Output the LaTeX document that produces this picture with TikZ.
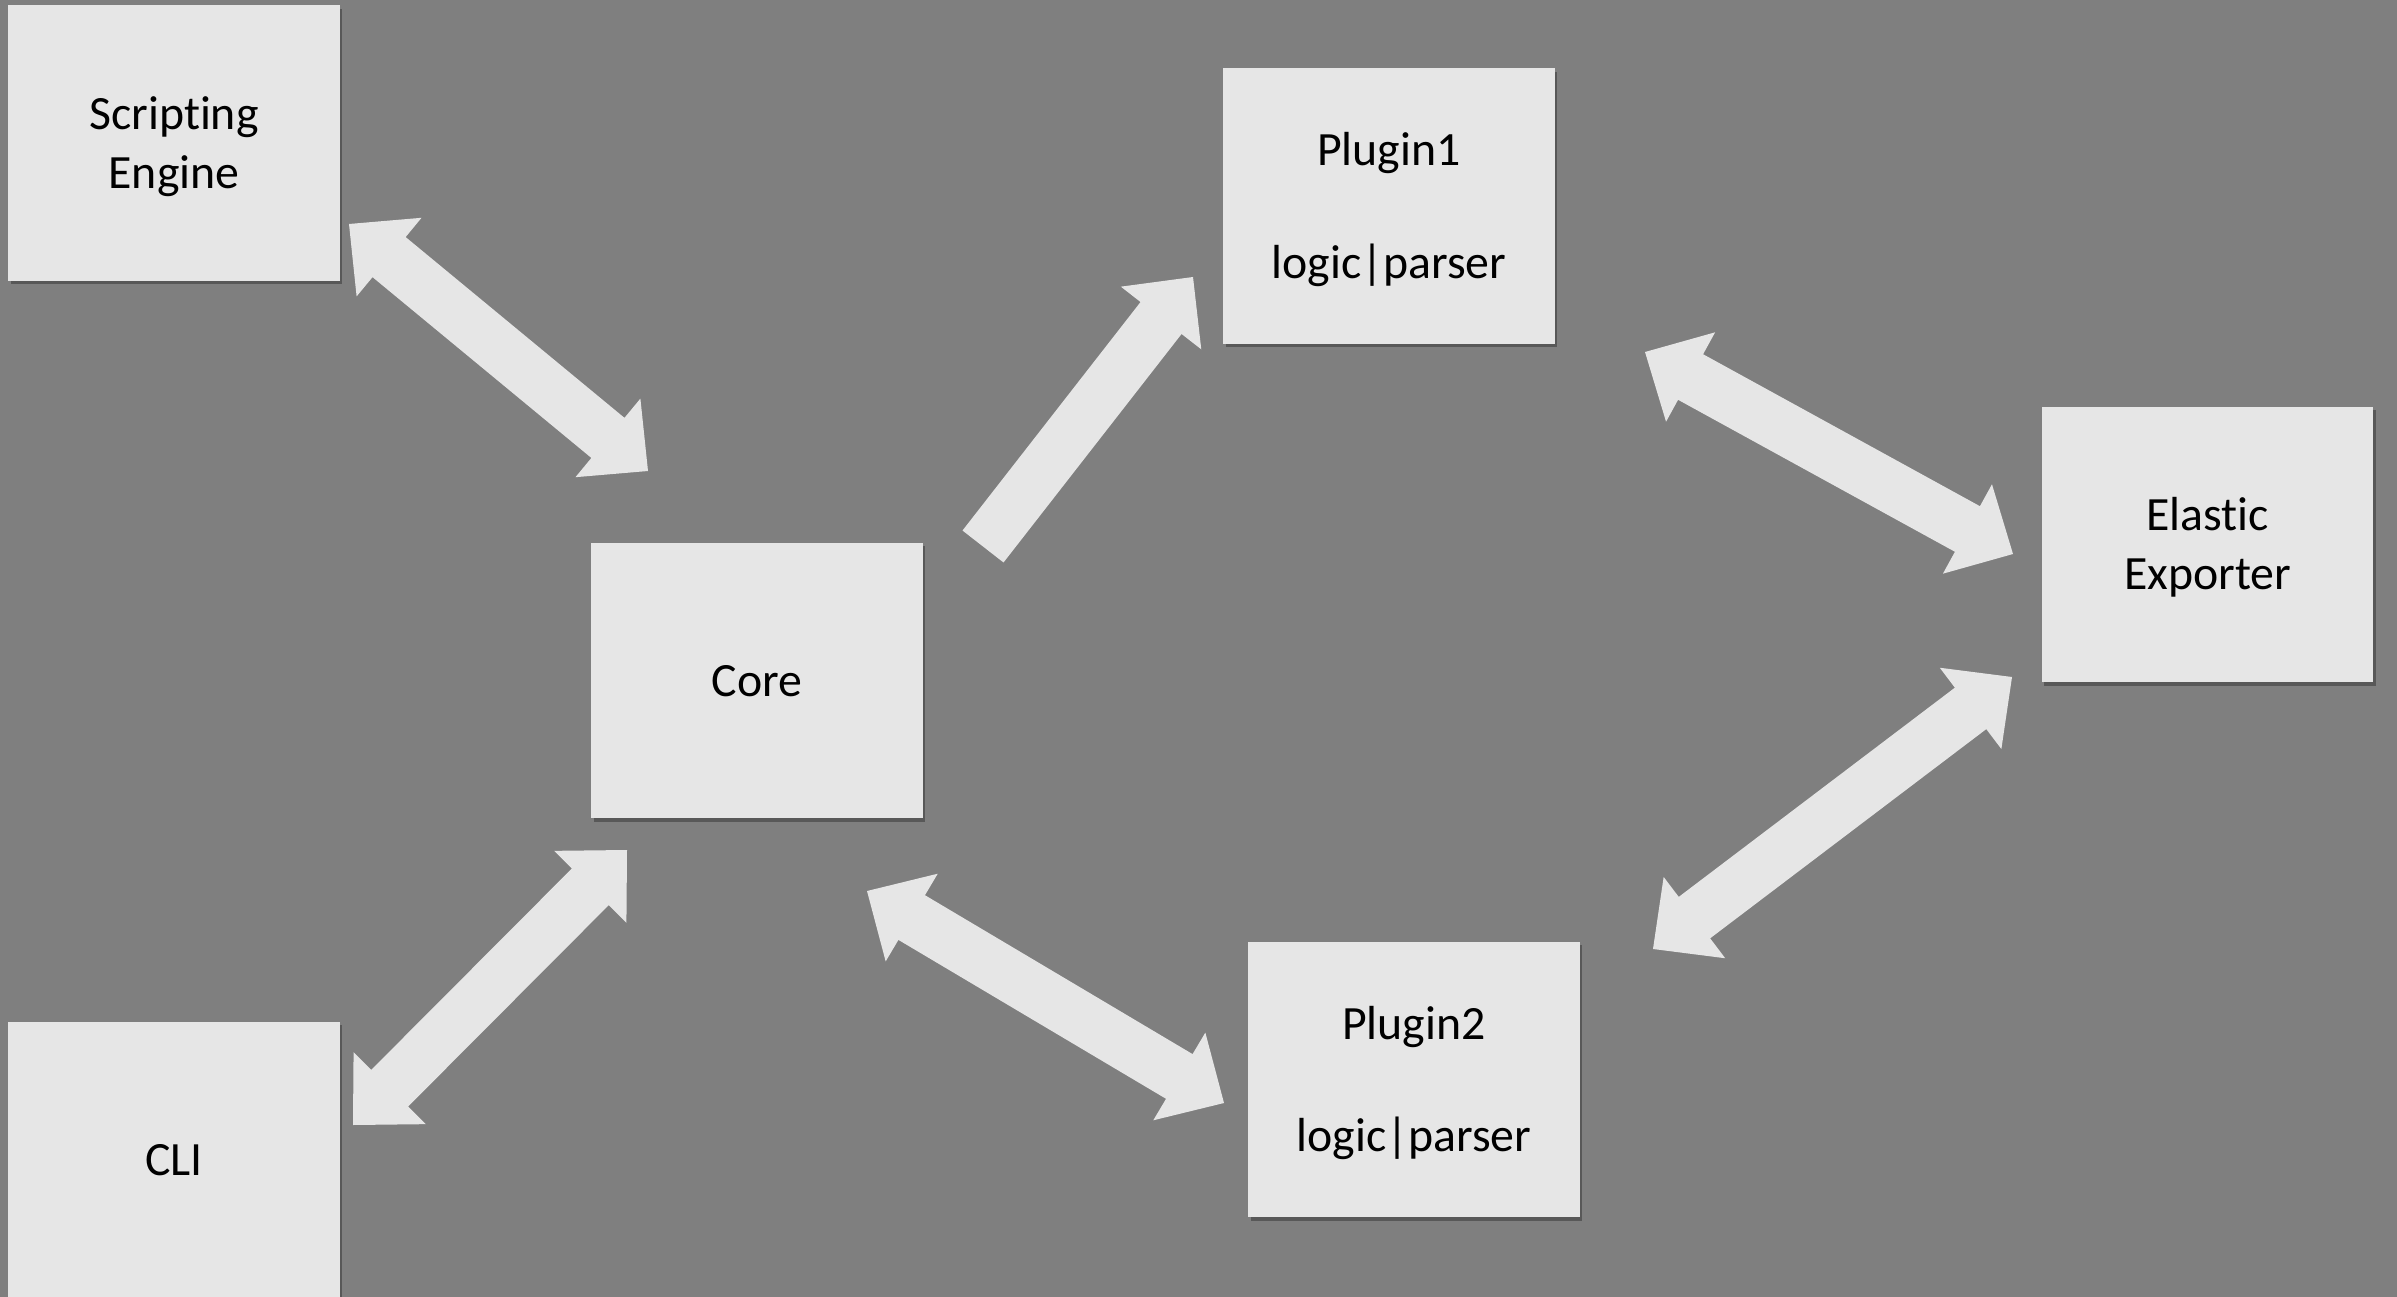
\documentclass[tikz,border=0pt]{standalone}
\usepackage{fontspec}
\setmainfont[Ligatures={NoCommon}]{Carlito}
\usetikzlibrary{calc,shadows}
\definecolor{bggray}{RGB}{127,127,127}
\definecolor{boxgray}{RGB}{230,230,230}
\tikzset{
  box/.style={fill=boxgray, draw=none, minimum width=6.64cm, minimum height=5.52cm,
    inner sep=0pt, text=black,
    font=\fontsize{27.2}{33.6}\selectfont,
    drop shadow={shadow xshift=0.05cm, shadow yshift=-0.07cm, opacity=0.3, fill=black}},
  arrowfill/.style={fill=boxgray, draw=none}
}
% centred text block, lowered slightly without changing its extent
\newcommand{\boxtext}[1]{\raisebox{-0.08cm}[\height][\depth]{\begin{tabular}{@{}c@{}}#1\end{tabular}}}
% double block arrow between two tips
\newcommand{\dblarrow}[2]{%
  \coordinate (ha) at ($(#1)!1.04cm!(#2)$);
  \coordinate (hb) at ($(#2)!1.04cm!(#1)$);
  \fill[arrowfill] (#1) -- ($(ha)!1.02cm!90:(#2)$) -- ($(ha)!0.52cm!90:(#2)$)
    -- ($(hb)!0.52cm!-90:(#1)$) -- ($(hb)!1.02cm!-90:(#1)$) -- (#2)
    -- ($(hb)!1.02cm!90:(#1)$) -- ($(hb)!0.52cm!90:(#1)$)
    -- ($(ha)!0.52cm!-90:(#2)$) -- ($(ha)!1.02cm!-90:(#2)$) -- cycle;
}
% single block arrow from tail centre to tip
\newcommand{\sglarrow}[2]{%
  \coordinate (ha) at ($(#2)!1.04cm!(#1)$);
  \fill[arrowfill] ($(#1)!0.52cm!90:(#2)$) -- ($(ha)!0.52cm!-90:(#1)$)
    -- ($(ha)!1.02cm!-90:(#1)$) -- (#2) -- ($(ha)!1.02cm!90:(#1)$)
    -- ($(ha)!0.52cm!90:(#1)$) -- ($(#1)!0.52cm!-90:(#2)$) -- cycle;
}
\begin{document}
\begin{tikzpicture}[x=0.02cm, y=-0.02cm]
\fill[bggray] (0,0) rectangle (2397,1297);
\useasboundingbox (0,0) rectangle (2397,1297);

\node[box] (se) at (174,143) {\boxtext{Scripting\\Engine}};
\node[box] (core) at (757,680.5) {\boxtext{Core}};
\node[box] (p1) at (1389,206) {\boxtext{Plugin1\\[30.4pt]logic|parser}};
\node[box] (ee) at (2207.5,544.5) {\boxtext{Elastic\\Exporter}};
\node[box] (p2) at (1414,1079.5) {\boxtext{Plugin2\\[30.4pt]logic|parser}};
\node[box] (cli) at (174,1159.5) {\boxtext{CLI}};

% arrow end points
\coordinate (a1s) at (349,224);
\coordinate (a1e) at (648,471);
\coordinate (a2s) at (983,546.5);
\coordinate (a2e) at (1193,277);
\coordinate (a3s) at (1645,352);
\coordinate (a3e) at (2013,554);
\coordinate (a4s) at (2012,677);
\coordinate (a4e) at (1653,949);
\coordinate (a5s) at (867,891);
\coordinate (a5e) at (1224,1103);
\coordinate (a6s) at (627,850);
\coordinate (a6e) at (353,1125);

\dblarrow{a1s}{a1e}
\sglarrow{a2s}{a2e}
\dblarrow{a3s}{a3e}
\dblarrow{a4s}{a4e}
\dblarrow{a5s}{a5e}
\dblarrow{a6s}{a6e}
\end{tikzpicture}
\end{document}
